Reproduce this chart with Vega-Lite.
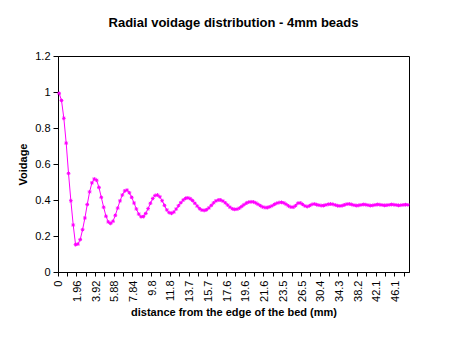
{
  "$schema": "https://vega.github.io/schema/vega-lite/v6.json",
  "width": 351,
  "height": 216,
  "autosize": {"type": "none"},
  "padding": {"left": 58, "top": 56, "right": 61, "bottom": 67},
  "background": "white",
  "config": {
    "view": {"stroke": "black", "strokeWidth": 1},
    "font": "Liberation Sans",
    "axis": {"domainColor": "black", "tickColor": "black", "labelColor": "black", "titleColor": "black", "grid": false, "labelFont": "Liberation Sans", "titleFont": "Liberation Sans"}
  },
  "title": {"text": "Radial voidage distribution - 4mm beads", "font": "Liberation Sans", "fontSize": 13, "fontWeight": "bold", "color": "black", "anchor": "middle", "frame": "group", "baseline": "bottom", "offset": 7},
  "data": {"values": [
    {"d": 0, "v": 0.993}, {"d": 0.245, "v": 0.953}, {"d": 0.49, "v": 0.854}, {"d": 0.735, "v": 0.716}, {"d": 0.98, "v": 0.548},
    {"d": 1.225, "v": 0.396}, {"d": 1.47, "v": 0.261}, {"d": 1.715, "v": 0.152}, {"d": 1.96, "v": 0.155}, {"d": 2.205, "v": 0.18},
    {"d": 2.45, "v": 0.235}, {"d": 2.695, "v": 0.3}, {"d": 2.94, "v": 0.375}, {"d": 3.185, "v": 0.445}, {"d": 3.43, "v": 0.495},
    {"d": 3.675, "v": 0.517}, {"d": 3.92, "v": 0.51}, {"d": 4.165, "v": 0.47}, {"d": 4.41, "v": 0.415}, {"d": 4.655, "v": 0.36},
    {"d": 4.9, "v": 0.31}, {"d": 5.145, "v": 0.278}, {"d": 5.39, "v": 0.27}, {"d": 5.635, "v": 0.282}, {"d": 5.88, "v": 0.315},
    {"d": 6.125, "v": 0.355}, {"d": 6.37, "v": 0.395}, {"d": 6.615, "v": 0.428}, {"d": 6.86, "v": 0.45}, {"d": 7.105, "v": 0.455},
    {"d": 7.35, "v": 0.44}, {"d": 7.595, "v": 0.415}, {"d": 7.84, "v": 0.383}, {"d": 8.085, "v": 0.35}, {"d": 8.33, "v": 0.322},
    {"d": 8.575, "v": 0.307}, {"d": 8.82, "v": 0.308}, {"d": 9.065, "v": 0.325}, {"d": 9.31, "v": 0.352}, {"d": 9.555, "v": 0.382},
    {"d": 9.8, "v": 0.408}, {"d": 10.045, "v": 0.425}, {"d": 10.29, "v": 0.428}, {"d": 10.535, "v": 0.418}, {"d": 10.78, "v": 0.396},
    {"d": 11.025, "v": 0.37}, {"d": 11.27, "v": 0.345}, {"d": 11.515, "v": 0.33}, {"d": 11.76, "v": 0.326}, {"d": 12.005, "v": 0.333},
    {"d": 12.25, "v": 0.35}, {"d": 12.495, "v": 0.368}, {"d": 12.74, "v": 0.385}, {"d": 12.985, "v": 0.4}, {"d": 13.23, "v": 0.409},
    {"d": 13.475, "v": 0.412}, {"d": 13.72, "v": 0.407}, {"d": 13.965, "v": 0.397}, {"d": 14.21, "v": 0.382}, {"d": 14.455, "v": 0.366},
    {"d": 14.7, "v": 0.352}, {"d": 14.945, "v": 0.344}, {"d": 15.19, "v": 0.342}, {"d": 15.435, "v": 0.346}, {"d": 15.68, "v": 0.356},
    {"d": 15.925, "v": 0.37}, {"d": 16.17, "v": 0.384}, {"d": 16.415, "v": 0.395}, {"d": 16.66, "v": 0.4}, {"d": 16.905, "v": 0.4},
    {"d": 17.15, "v": 0.394}, {"d": 17.395, "v": 0.384}, {"d": 17.64, "v": 0.372}, {"d": 17.885, "v": 0.36}, {"d": 18.13, "v": 0.351},
    {"d": 18.375, "v": 0.348}, {"d": 18.62, "v": 0.349}, {"d": 18.865, "v": 0.355}, {"d": 19.11, "v": 0.364}, {"d": 19.355, "v": 0.374},
    {"d": 19.6, "v": 0.383}, {"d": 19.845, "v": 0.388}, {"d": 20.09, "v": 0.39}, {"d": 20.335, "v": 0.389}, {"d": 20.58, "v": 0.384},
    {"d": 20.825, "v": 0.376}, {"d": 21.07, "v": 0.368}, {"d": 21.315, "v": 0.361}, {"d": 21.56, "v": 0.358}, {"d": 21.805, "v": 0.358},
    {"d": 22.05, "v": 0.362}, {"d": 22.295, "v": 0.368}, {"d": 22.54, "v": 0.376}, {"d": 22.785, "v": 0.382}, {"d": 23.03, "v": 0.386},
    {"d": 23.275, "v": 0.387}, {"d": 23.52, "v": 0.384}, {"d": 23.765, "v": 0.376}, {"d": 24.01, "v": 0.367}, {"d": 24.255, "v": 0.361},
    {"d": 24.5, "v": 0.36}, {"d": 24.99, "v": 0.368}, {"d": 25.48, "v": 0.382}, {"d": 25.97, "v": 0.384}, {"d": 26.46, "v": 0.376},
    {"d": 26.95, "v": 0.367}, {"d": 27.44, "v": 0.363}, {"d": 27.93, "v": 0.368}, {"d": 28.42, "v": 0.375}, {"d": 28.91, "v": 0.378},
    {"d": 29.4, "v": 0.374}, {"d": 29.89, "v": 0.371}, {"d": 30.38, "v": 0.369}, {"d": 30.87, "v": 0.369}, {"d": 31.36, "v": 0.373},
    {"d": 31.85, "v": 0.376}, {"d": 32.34, "v": 0.378}, {"d": 32.83, "v": 0.376}, {"d": 33.32, "v": 0.372}, {"d": 33.81, "v": 0.368},
    {"d": 34.3, "v": 0.367}, {"d": 34.79, "v": 0.369}, {"d": 35.28, "v": 0.373}, {"d": 35.77, "v": 0.377}, {"d": 36.26, "v": 0.378},
    {"d": 36.75, "v": 0.375}, {"d": 37.24, "v": 0.371}, {"d": 37.73, "v": 0.369}, {"d": 38.22, "v": 0.37}, {"d": 38.71, "v": 0.373},
    {"d": 39.2, "v": 0.375}, {"d": 39.69, "v": 0.374}, {"d": 40.18, "v": 0.371}, {"d": 40.67, "v": 0.369}, {"d": 41.16, "v": 0.37},
    {"d": 41.65, "v": 0.373}, {"d": 42.14, "v": 0.375}, {"d": 42.63, "v": 0.374}, {"d": 43.12, "v": 0.372}, {"d": 43.61, "v": 0.37},
    {"d": 44.1, "v": 0.371}, {"d": 44.59, "v": 0.373}, {"d": 45.08, "v": 0.375}, {"d": 45.57, "v": 0.374}, {"d": 46.06, "v": 0.372},
    {"d": 46.55, "v": 0.37}, {"d": 47.04, "v": 0.371}, {"d": 47.53, "v": 0.373}, {"d": 48.02, "v": 0.374}, {"d": 48.51, "v": 0.373}
  ]},
  "encoding": {
    "x": {
      "field": "d", "type": "ordinal",
      "scale": {"type": "band", "paddingInner": 0, "paddingOuter": 0},
      "axis": {
        "title": "distance from the edge of the bed (mm)",
        "titleFontSize": 11, "titleFontWeight": "bold", "titlePadding": 5,
        "values": [0, 0.98, 1.96, 2.94, 3.92, 4.9, 5.88, 6.86, 7.84, 8.82, 9.8, 10.78, 11.76, 12.74, 13.72, 14.7, 15.68, 16.66, 17.64, 18.62, 19.6, 20.58, 21.56, 22.54, 23.52, 24.5, 26.46, 28.42, 30.38, 32.34, 34.3, 36.26, 38.22, 40.18, 42.14, 44.1, 46.06, 48.02],
        "labelExpr": "indexof([0, 1.96, 3.92, 5.88, 7.84, 9.8, 11.76, 13.72, 15.68, 17.64, 19.6, 21.56, 23.52, 26.46, 30.38, 34.3, 38.22, 42.14, 46.06], datum.value) >= 0 ? format(datum.value, '.3~r') : ''",
        "labelAngle": 270, "labelFontSize": 11, "labelPadding": 4, "tickSize": 4,
        "bandPosition": 0, "labelOverlap": false, "labelBound": false
      }
    },
    "y": {
      "field": "v", "type": "quantitative",
      "scale": {"domain": [0, 1.2], "nice": false, "zero": true},
      "axis": {
        "title": "Voidage", "titleFontSize": 11, "titleFontWeight": "bold", "titlePadding": 6,
        "values": [0, 0.2, 0.4, 0.6, 0.8, 1, 1.2], "format": "~g",
        "labelFontSize": 11, "labelPadding": 3, "tickSize": 5
      }
    }
  },
  "layer": [
    {"mark": {"type": "line", "color": "#FF00FF", "strokeWidth": 1}},
    {"mark": {"type": "point", "shape": "M-1,0L1,0M0,-1L0,1M-0.7,-0.7L0.7,0.7M-0.7,0.7L0.7,-0.7", "size": 14, "filled": false, "stroke": "#FF00FF", "strokeWidth": 1, "opacity": 1}}
  ]
}
